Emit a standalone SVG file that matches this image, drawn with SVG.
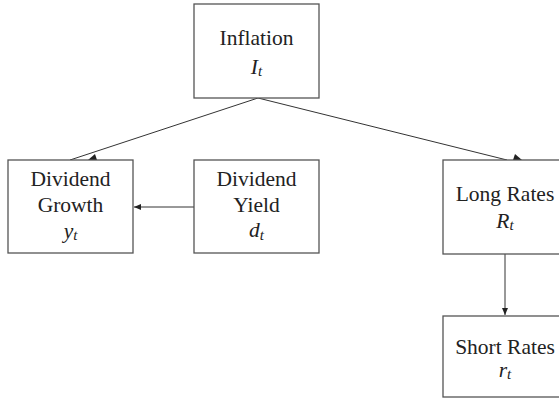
<svg xmlns="http://www.w3.org/2000/svg" width="559" height="409" viewBox="0 0 559 409">
<style>
.box{fill:#fff;stroke:#555;stroke-width:1.3}
.t{font-family:"Liberation Serif","Times New Roman",serif;font-size:21.5px;fill:#222;text-anchor:middle}
.m{font-style:italic}
.s{font-size:15px}
.ln{stroke:#333;stroke-width:1;fill:none}
.ah{fill:#222}
</style>
<defs>
<marker id="arr" markerWidth="8" markerHeight="6" refX="7" refY="3" orient="auto" markerUnits="userSpaceOnUse">
<path d="M0,0 L7,3 L0,6 z" fill="#222"/>
</marker>
</defs>
<g id="connectors">
<line class="ln" x1="258" y1="98" x2="70" y2="160"/>
<polygon class="ah" points="88,160 97,160 95,154"/>
<line class="ln" x1="258" y1="98" x2="507" y2="160"/>
<polygon class="ah" points="513,160 522,160 515,154"/>
<line class="ln" x1="194" y1="207" x2="134" y2="207" marker-end="url(#arr)"/>
<line class="ln" x1="505" y1="254" x2="505" y2="315" marker-end="url(#arr)"/>
</g>
<g id="inflation">
<rect class="box" x="194" y="4" width="125" height="94"/>
<text class="t" x="256.5" y="45">Inflation</text>
<text class="t" x="256.5" y="73.5"><tspan class="m">I</tspan><tspan class="m s" dy="2.5">t</tspan></text>
</g>
<g id="dividend-growth">
<rect class="box" x="8" y="160" width="125" height="93"/>
<text class="t" x="70.5" y="185.7">Dividend</text>
<text class="t" x="70.5" y="211.7">Growth</text>
<text class="t" x="70.5" y="237.5"><tspan class="m">y</tspan><tspan class="m s" dy="2">t</tspan></text>
</g>
<g id="dividend-yield">
<rect class="box" x="194" y="160" width="125" height="93"/>
<text class="t" x="256.5" y="185.7">Dividend</text>
<text class="t" x="256.5" y="211.7">Yield</text>
<text class="t" x="256.5" y="237"><tspan class="m">d</tspan><tspan class="m s" dy="2.5">t</tspan></text>
</g>
<g id="long-rates">
<rect class="box" x="443" y="160" width="125" height="94"/>
<text class="t" x="505" y="200.7">Long Rates</text>
<text class="t" x="505" y="227.7"><tspan class="m">R</tspan><tspan class="m s" dy="2.5">t</tspan></text>
</g>
<g id="short-rates">
<rect class="box" x="443" y="316" width="125" height="81"/>
<text class="t" x="505" y="354">Short Rates</text>
<text class="t" x="505" y="377"><tspan class="m">r</tspan><tspan class="m s" dy="2">t</tspan></text>
</g>
</svg>
